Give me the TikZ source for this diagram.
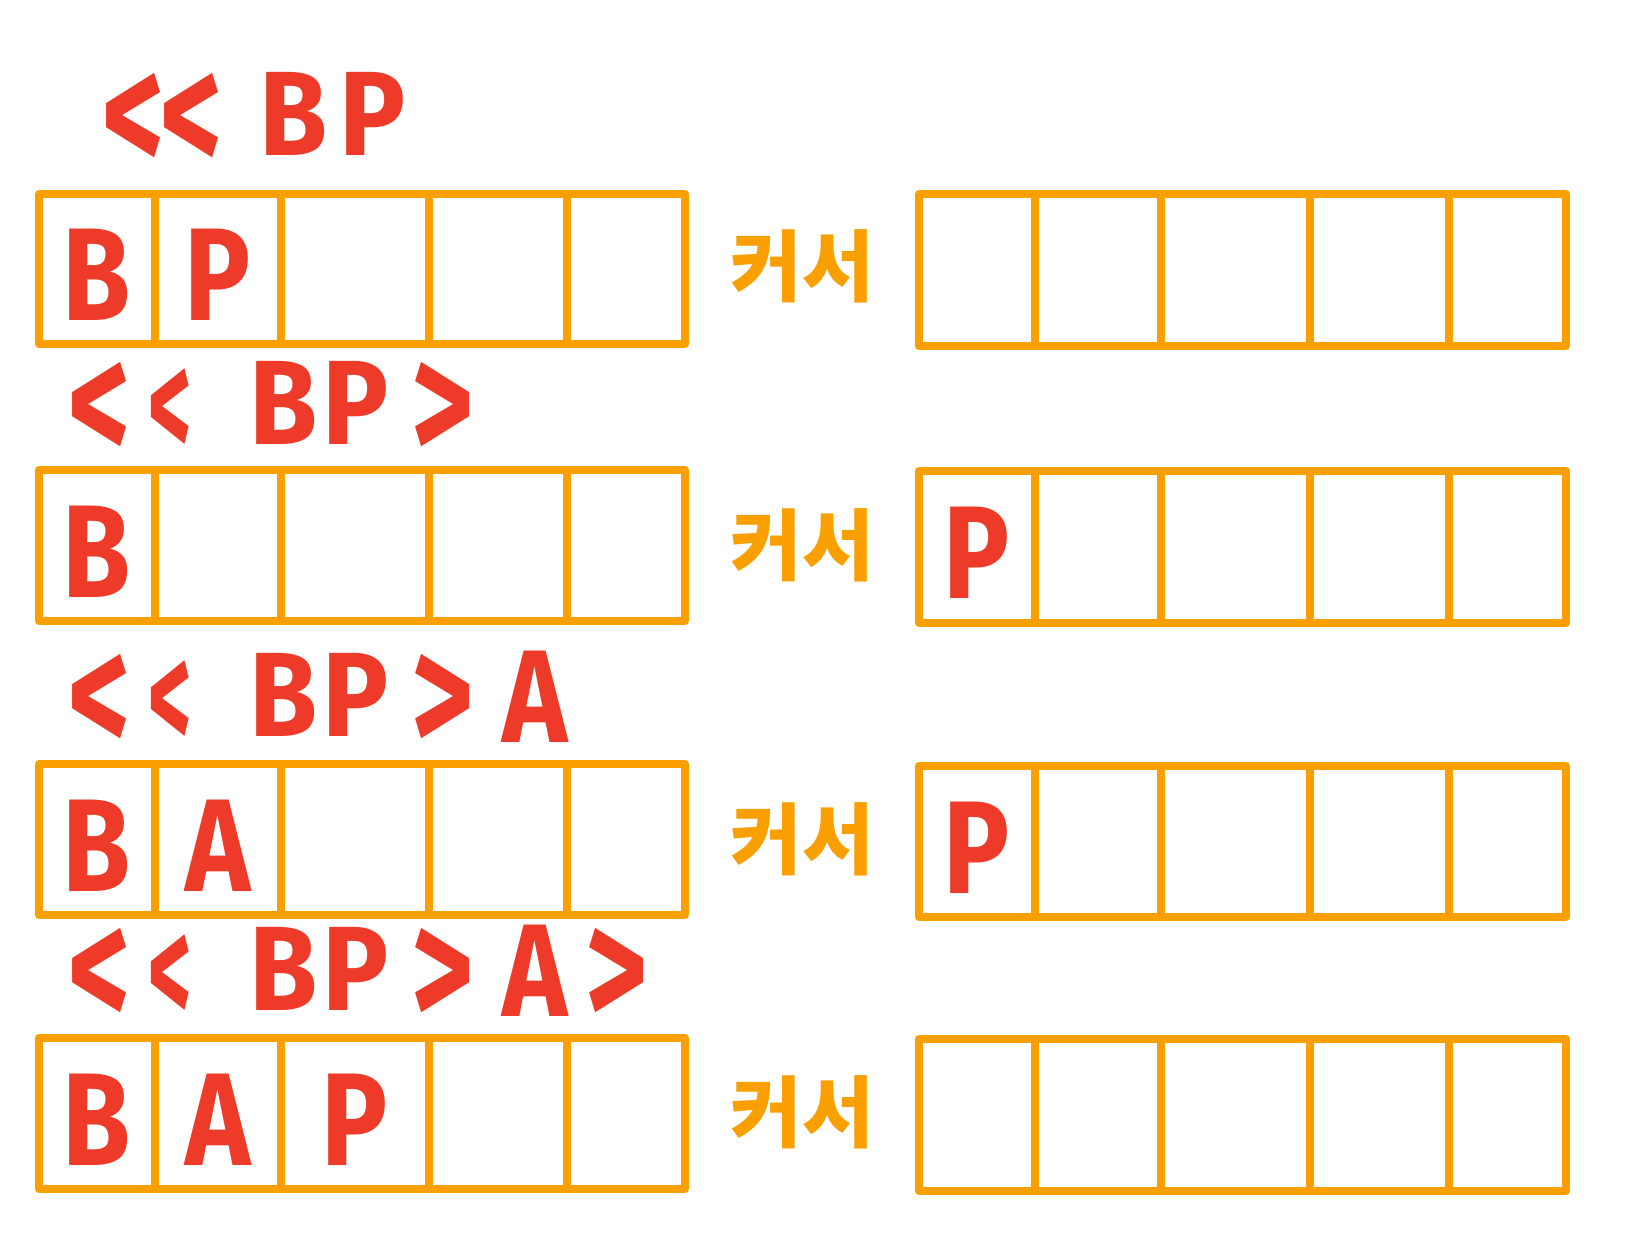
\documentclass[tikz,border=0pt]{standalone}
\usepackage{fontspec}
\setmainfont{Fira Sans}
\newfontfamily\krfont{Noto Sans CJK KR}
\definecolor{boxorange}{HTML}{F9A000}
\definecolor{inkred}{HTML}{EE3A28}
\newcommand\gl[1]{\makebox[0pt][c]{#1}}
\newcommand\gp[1]{\hspace{#1pt}}
\newcommand\lt{\smash{\raisebox{-18pt}{\scalebox{1}[1.45]{<}}}}
\newcommand\ltsmall{\smash{\raisebox{-14pt}{\scalebox{0.7}[1.3]{<}}}}
\newcommand\gt{\smash{\raisebox{-18pt}{\scalebox{1}[1.45]{>}}}}
\newcommand\tall[1]{\scalebox{0.92}[1.1]{#1}}
\newcommand\seqch[1]{\scalebox{0.92}[1.0]{#1}}
\begin{document}
\begin{tikzpicture}[x=1pt,y=-1pt,
  cell/.style={draw=boxorange, line width=7.5pt, rectangle, inner sep=0pt, outer sep=0pt, line join=round},
  letter/.style={text=inkred, inner sep=0pt, font=\fontsize{120}{120}\selectfont\bfseries},
  seq/.style={text=inkred, inner sep=0pt, anchor=west, font=\fontsize{120}{120}\selectfont\bfseries},
  cursor/.style={text=boxorange, inner sep=0pt, font=\fontsize{78}{78}\selectfont\krfont\bfseries}]
\fill[white] (0,0) rectangle (1638,1256);
\useasboundingbox (0,0) rectangle (1638,1256);
% cells
\foreach \r/\yt/\yb/\ytr/\ybr in {1/194/344/194/346, 2/470/621/471/623, 3/764/915/766/917, 4/1038/1189/1039/1191}{
  \foreach \c/\xa/\xb in {1/39/155, 2/155/281, 3/281/429, 4/429/567, 5/567/685}{
    \node[cell, minimum width={(\xb-\xa)*1pt}, minimum height={(\yb-\yt)*1pt}] (L\r\c) at ({(\xa+\xb)/2},{(\yt+\yb)/2}) {};
  }
  \foreach \c/\xa/\xb in {1/919/1035, 2/1035/1161, 3/1161/1310, 4/1310/1449, 5/1449/1566}{
    \node[cell, minimum width={(\xb-\xa)*1pt}, minimum height={(\ybr-\ytr)*1pt}] (R\r\c) at ({(\xa+\xb)/2},{(\ytr+\ybr)/2}) {};
  }
}
% sequences
\node[seq] (s1) at (133,114) {\gl{\lt}\gp{58}\gl{\lt}\gp{102}\gl{\seqch{B}}\gp{79}\gl{\seqch{P}}};
\node[seq] (s2) at (99,403) {\gl{\lt}\gp{71}\gl{\ltsmall}\gp{113}\gl{\seqch{B}}\gp{72}\gl{\seqch{P}}\gp{87}\gl{\gt}};
\node[seq] (s3) at (99,697) {\gl{\lt}\gp{71}\gl{\ltsmall}\gp{113}\gl{\seqch{B}}\gp{72}\gl{\seqch{P}}\gp{87}\gl{\gt}\gp{93}\gl{\raisebox{-6pt}{\tall{A}}}};
\node[seq] (s4) at (99,971) {\gl{\lt}\gp{71}\gl{\ltsmall}\gp{113}\gl{\seqch{B}}\gp{72}\gl{\seqch{P}}\gp{87}\gl{\gt}\gp{93}\gl{\raisebox{-6pt}{\tall{A}}}\gp{81}\gl{\gt}};
% cursor labels
\node[cursor] (c1) at (802,266) {커서};
\node[cursor] (c2) at (802,545) {커서};
\node[cursor] (c3) at (802,839) {커서};
\node[cursor] (c4) at (802,1112) {커서};
% letters in cells
\node[letter] (b1) at ([yshift=-6pt]L11) {\tall{B}};
\node[letter] (p1) at ([yshift=-6pt]L12) {\tall{P}};
\node[letter] (b2) at ([yshift=-6pt]L21) {\tall{B}};
\node[letter] (p2) at ([yshift=-6pt]R21) {\tall{P}};
\node[letter] (b3) at ([yshift=-6pt]L31) {\tall{B}};
\node[letter] (a3) at ([yshift=-6pt]L32) {\tall{A}};
\node[letter] (p3) at ([yshift=-6pt]R31) {\tall{P}};
\node[letter] (b4) at ([yshift=-6pt]L41) {\tall{B}};
\node[letter] (a4) at ([yshift=-6pt]L42) {\tall{A}};
\node[letter] (p4) at ([yshift=-6pt]L43) {\tall{P}};
\end{tikzpicture}
\end{document}
